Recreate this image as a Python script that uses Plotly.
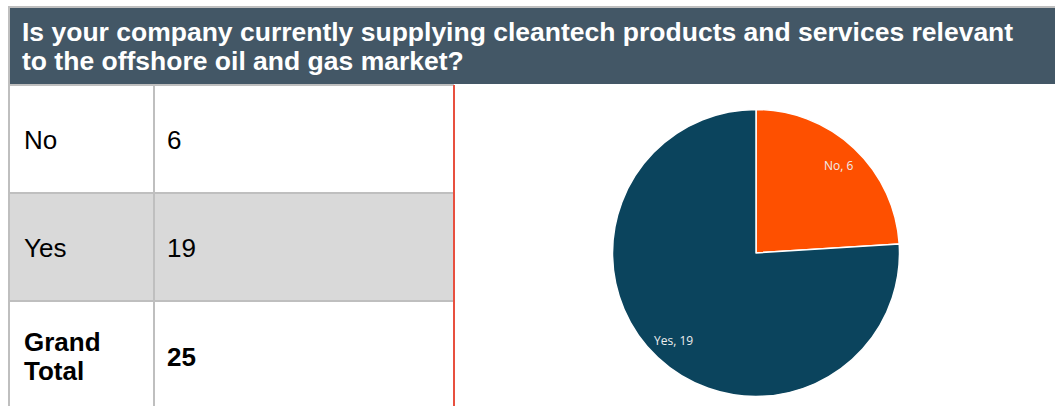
import math
import plotly.graph_objects as go

# Survey answers
answers = ["No", "Yes"]
counts = [6, 19]
total_label = ["Grand", "Total"]
question = [
    "Is your company currently supplying cleantech products and services relevant",
    "to the offshore oil and gas market?",
]

W, H = 1055, 406
HEADER_BG = "#435766"
GRID = "#bfbfbf"
ROW_ALT = "#d9d9d9"
SPLIT_RED = "#e8503f"
PIE_COLORS = ["#fe5000", "#0b445d"]


def px(x):
    return x / W


def py(y):
    return 1 - y / H


fig = go.Figure()

# Pie: centre (756, 253) px, radius ~143.5 px
cx, cy, r = 756, 253, 143.5
fig.add_trace(go.Pie(
    labels=answers,
    values=counts,
    sort=False,
    direction="clockwise",
    rotation=0,
    marker=dict(colors=PIE_COLORS, line=dict(color="white", width=1.5)),
    textposition="none",
    hoverinfo="label+value",
    showlegend=False,
    domain=dict(x=[px(cx - r), px(cx + r)], y=[py(cy + r), py(cy - r)]),
))

shapes = []


def line(x0, y0, x1, y1, color, width=2):
    shapes.append(dict(type="line", xref="paper", yref="paper",
                       x0=px(x0), x1=px(x1), y0=py(y0), y1=py(y1),
                       line=dict(color=color, width=width)))


def rect(x0, y0, x1, y1, fill):
    shapes.append(dict(type="rect", xref="paper", yref="paper",
                       x0=px(x0), x1=px(x1), y0=py(y0), y1=py(y1),
                       fillcolor=fill, line_width=0, layer="below"))


# frame and header band
line(9, 7, W, 7, GRID)
line(9, 6, 9, H, GRID)
rect(10, 8, W, 84, HEADER_BG)

# table rows
row_top = 85
row_h = 108
col_x = [9, 154, 454]
rect(col_x[0], row_top + row_h, col_x[2], row_top + 2 * row_h, ROW_ALT)
for i in range(3):
    y = row_top + i * row_h
    line(col_x[0], y, col_x[2], y, GRID)
line(col_x[1], row_top, col_x[1], H, GRID)
line(col_x[2], row_top, col_x[2], H, SPLIT_RED)

annotations = []


def text(x, y, s, size, color="black", family="Liberation Sans"):
    annotations.append(dict(x=px(x), y=py(y), text=s, xref="paper", yref="paper",
                            xanchor="left", yanchor="middle", align="left", showarrow=False,
                            font=dict(family=family, size=size, color=color)))


# question text in the header
for k, q in enumerate(question):
    text(20, 32 + k * 29, f"<b>{q}</b>", 26.5, "white")

# table contents
for i, (a, c) in enumerate(zip(answers, counts)):
    yc = row_top + i * row_h + row_h / 2 + 1
    text(22, yc, a, 26)
    text(165, yc, str(c), 26)
yc = row_top + 2 * row_h + row_h / 2 + 1
text(22, yc - 14.5, f"<b>{total_label[0]}</b>", 26)
text(22, yc + 14.5, f"<b>{total_label[1]}</b>", 26)
text(165, yc + 1, f"<b>{sum(counts)}</b>", 26)

# slice labels placed along each slice's mid angle
total = sum(counts)
start = 0.0
for a, c in zip(answers, counts):
    sweep = 360.0 * c / total
    mid = math.radians(start + sweep / 2)
    lx = cx + 0.84 * r * math.sin(mid)
    ly = cy - 0.84 * r * math.cos(mid)
    annotations.append(dict(x=px(lx), y=py(ly), text=f"{a}, {c}", xref="paper", yref="paper",
                            xanchor="center", yanchor="middle", showarrow=False,
                            font=dict(family="Open Sans", size=12, color="#eeeeee")))
    start += sweep

fig.update_layout(
    width=W, height=H,
    margin=dict(l=0, r=0, t=0, b=0),
    paper_bgcolor="white", plot_bgcolor="rgba(0,0,0,0)",
    shapes=shapes,
    annotations=annotations,
)

fig.write_html("out.html")
